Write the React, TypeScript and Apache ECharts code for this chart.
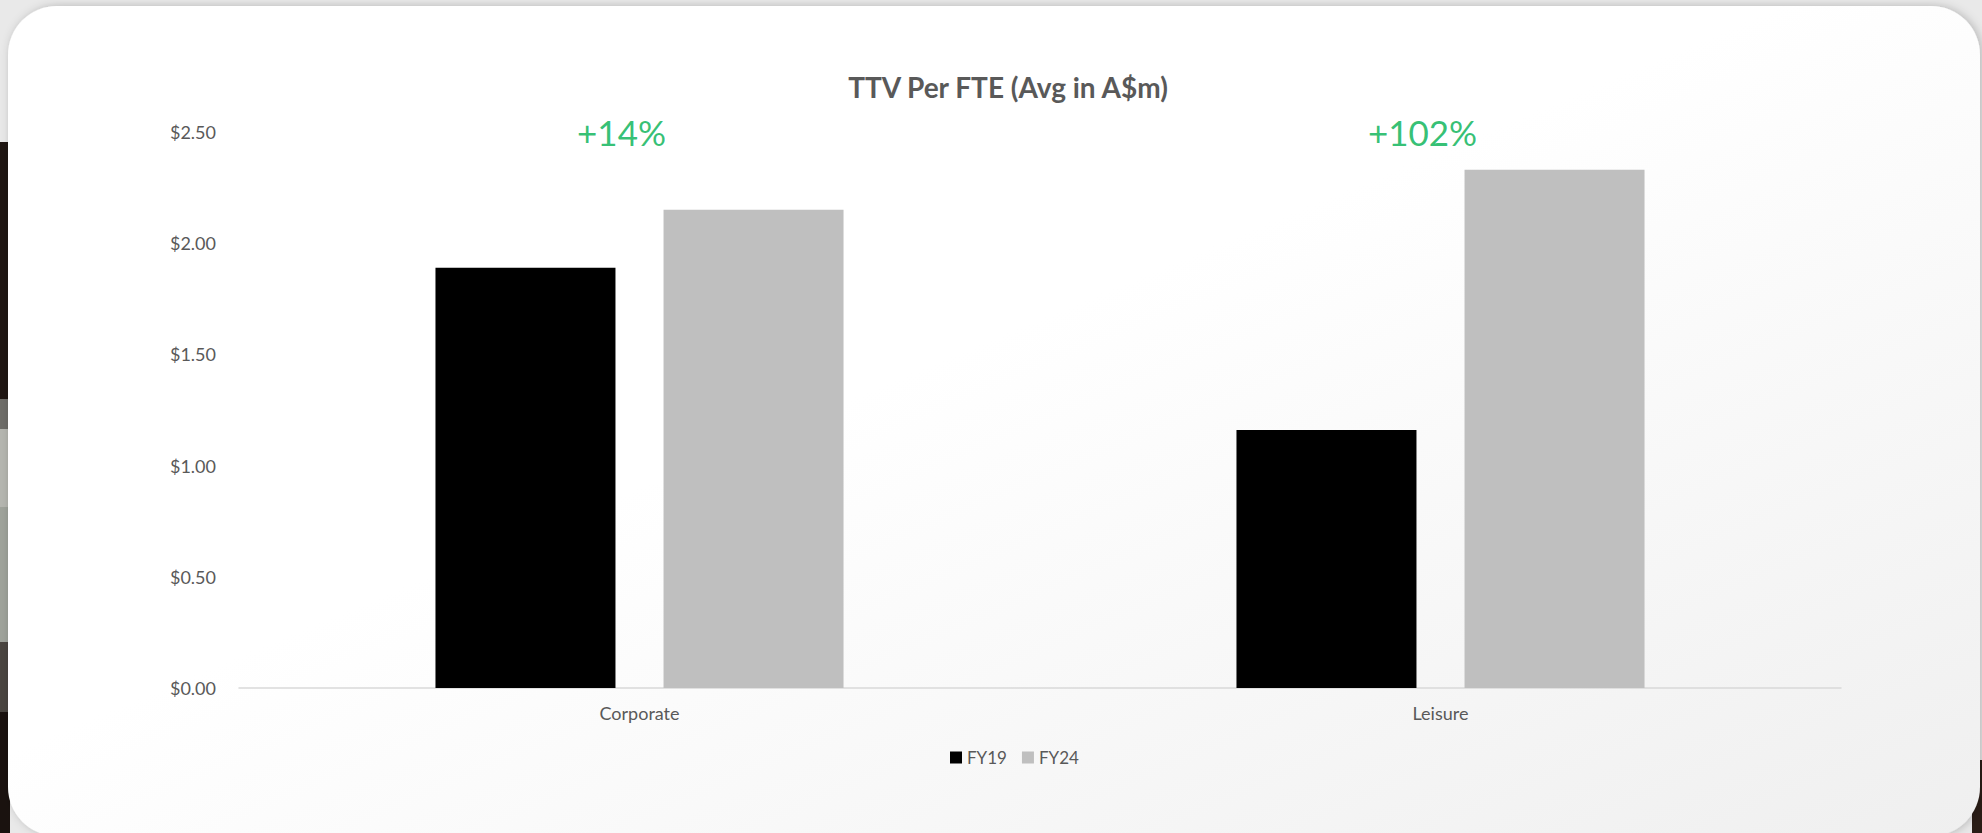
import React, { useEffect, useRef } from "react";
import * as echarts from "echarts";

const categories = ["Corporate", "Leisure"];
const fy19Values = [1.89, 1.16];
const fy24Values = [2.15, 2.33];
const growthLabels = ["+14%", "+102%"];
const seriesNames = ["FY19", "FY24"];
const yMin = 0;
const yMax = 2.5;
const yInterval = 0.5;

const FONT = "Lato, 'Open Sans', sans-serif";

export default function App() {
  const ref = useRef<HTMLDivElement>(null);

  useEffect(() => {
    document.body.style.margin = "0";
    if (!ref.current) return;
    const chart = echarts.init(ref.current, undefined, { renderer: "svg", width: 1982, height: 833 });

    const leftStrip = [
      { y: 142, h: 257, c: "#1f1612" },
      { y: 399, h: 30, c: "#6e6d68" },
      { y: 429, h: 78, c: "#b5b6b0" },
      { y: 507, h: 135, c: "#9fa39b" },
      { y: 642, h: 70, c: "#4a4540" },
      { y: 712, h: 121, c: "#1a120f" },
    ];

    const option: any = {
      animation: false,
      backgroundColor: "#e9e9e9",
      textStyle: { fontFamily: FONT },
      graphic: [
        ...leftStrip.map((s) => ({
          type: "rect",
          z: -20,
          silent: true,
          shape: { x: 0, y: s.y, width: 10, height: s.h },
          style: { fill: s.c },
        })),
        {
          type: "rect",
          z: -20,
          silent: true,
          shape: { x: 1972, y: 760, width: 10, height: 73 },
          style: { fill: "#2a1d16" },
        },
        {
          type: "rect",
          z: -10,
          silent: true,
          shape: { x: 8, y: 6, width: 1972, height: 830, r: 49 },
          style: {
            fill: new echarts.graphic.LinearGradient(0, 0, 1, 1, [
              { offset: 0, color: "#ffffff" },
              { offset: 0.45, color: "#ffffff" },
              { offset: 1, color: "#efefef" },
            ]),
            shadowBlur: 10,
            shadowColor: "rgba(0,0,0,0.22)",
            shadowOffsetX: 2,
            shadowOffsetY: 0,
          },
        },
        {
          type: "text",
          z: 5,
          silent: true,
          x: 1008,
          y: 87,
          style: {
            text: "TTV Per FTE (Avg in A$m)",
            fontFamily: FONT,
            fontWeight: "bold",
            fontSize: 28,
            fill: "#595959",
            textAlign: "center",
            textVerticalAlign: "middle",
          },
        },
      ],
      legend: {
        data: seriesNames,
        left: 950,
        top: 749,
        padding: 0,
        itemWidth: 12,
        itemHeight: 12,
        itemGap: 15,
        icon: "rect",
        textStyle: { fontFamily: FONT, fontSize: 17, color: "#595959" },
      },
      grid: { left: 239, right: 141, top: 132, bottom: 145, containLabel: false },
      xAxis: {
        type: "category",
        data: categories,
        axisLine: { show: true, lineStyle: { color: "#d9d9d9", width: 1.5 } },
        axisTick: { show: false },
        axisLabel: { color: "#595959", fontFamily: FONT, fontSize: 18, margin: 16 },
      },
      yAxis: {
        type: "value",
        min: yMin,
        max: yMax,
        interval: yInterval,
        splitLine: { show: false },
        axisLine: { show: false },
        axisTick: { show: false },
        axisLabel: {
          color: "#595959",
          fontFamily: FONT,
          fontSize: 18,
          margin: 23,
          formatter: (v: number) => "$" + v.toFixed(2),
        },
      },
      series: [
        {
          name: seriesNames[0],
          type: "bar",
          data: fy19Values,
          barWidth: 180,
          barGap: "26.7%",
          itemStyle: { color: "#000000" },
        },
        {
          name: seriesNames[1],
          type: "bar",
          data: fy24Values,
          barWidth: 180,
          barGap: "26.7%",
          itemStyle: { color: "#bfbfbf" },
        },
        {
          name: "growth",
          type: "scatter",
          silent: true,
          symbolSize: 1,
          itemStyle: { color: "rgba(0,0,0,0)" },
          data: categories.map((c, i) => ({ value: [c, yMax], label: { formatter: growthLabels[i] } })),
          label: {
            show: true,
            position: "inside",
            offset: [-18, 0],
            color: "#00b050",
            fontFamily: FONT,
            fontSize: 35,
          },
          z: 5,
        },
      ],
    };

    chart.setOption(option);
    return () => chart.dispose();
  }, []);

  return (
    <div
      ref={ref}
      style={{ position: "fixed", left: 0, top: 0, width: 1982, height: 833 }}
    />
  );
}
